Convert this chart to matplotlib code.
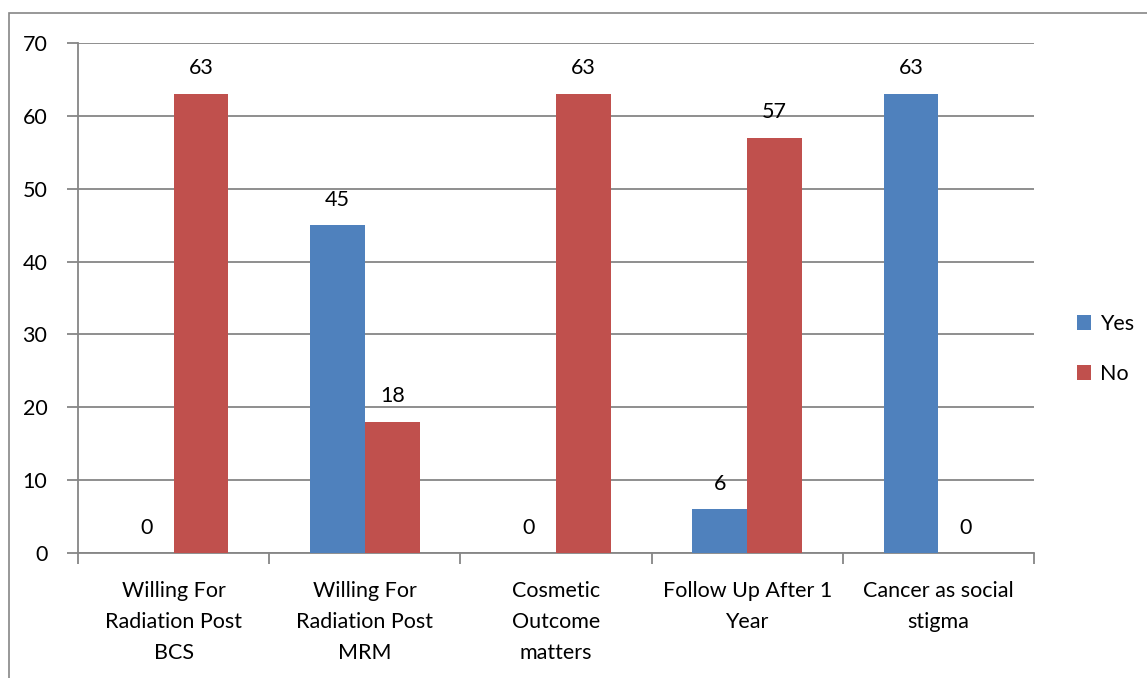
import numpy as np
import matplotlib.pyplot as plt
from matplotlib.patches import Rectangle

categories = ['Willing For\nRadiation Post\nBCS', 'Willing For\nRadiation Post\nMRM',
              'Cosmetic\nOutcome\nmatters', 'Follow Up After 1\nYear', 'Cancer as social\nstigma']
yes_vals = [0, 45, 0, 6, 63]
no_vals = [63, 18, 63, 57, 0]
yticks = [0, 10, 20, 30, 40, 50, 60, 70]

plt.rcParams['font.family'] = ['Lato', 'DejaVu Sans']

fig = plt.figure(figsize=(11.47, 6.78), dpi=100)
ax = fig.add_axes([78 / 1147, 1 - 553 / 678, (1034 - 78) / 1147, (553 - 43) / 678])

# outer chart border (extends past the right and bottom edges)
fig.patches.append(Rectangle((9 / 1147, -0.1), 1.2, 1 - 13 / 678 + 0.1,
                             transform=fig.transFigure, fill=False,
                             edgecolor='#868686', linewidth=1.2))

x = np.arange(len(categories))
w = 0.287
grid_c = '#868686'
fs = 15.5

b1 = ax.bar(x - w / 2, yes_vals, w, color='#4F81BD', label='Yes', zorder=3)
b2 = ax.bar(x + w / 2, no_vals, w, color='#C0504D', label='No', zorder=3)

for bars, vals in ((b1, yes_vals), (b2, no_vals)):
    for bar, v in zip(bars, vals):
        ax.text(bar.get_x() + bar.get_width() / 2, v + 3.5, str(v),
                ha='center', va='center', fontsize=fs)

ax.set_xlim(-0.5, len(categories) - 0.5)
ax.set_ylim(0, 70)
ax.set_yticks(yticks)
ax.yaxis.grid(True, color=grid_c, linewidth=1.3, zorder=0)
ax.set_xticks(np.arange(len(categories) + 1) - 0.5)
ax.set_xticklabels([])
ax.set_xticks(x, minor=True)
ax.set_xticklabels(categories, minor=True, fontsize=fs, linespacing=1.68)
ax.tick_params(axis='x', which='minor', length=0, pad=20)
ax.tick_params(axis='x', which='major', length=8, color=grid_c, width=1.3)
ax.tick_params(axis='y', length=8, color=grid_c, width=1.3, labelsize=fs, pad=14)

for s in ('top', 'right'):
    ax.spines[s].set_visible(False)
for s in ('left', 'bottom'):
    ax.spines[s].set_color(grid_c)
    ax.spines[s].set_linewidth(1.3)

ax.legend(loc='center left', bbox_to_anchor=(1.025, 0.4), frameon=False,
          fontsize=fs, handlelength=0.65, handleheight=0.65, handletextpad=0.4,
          labelspacing=1.4)

fig.savefig('out.png', dpi=100, facecolor='white')
